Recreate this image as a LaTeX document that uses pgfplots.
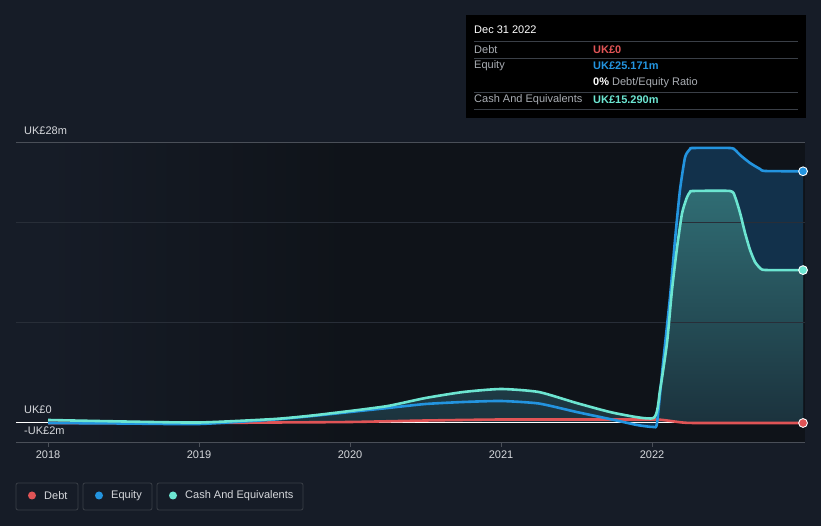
\documentclass[border=0pt]{standalone}
\usepackage{pgfplots}
\pgfplotsset{compat=1.18}
\usepackage{fontspec}
\setmainfont{Liberation Sans}

\definecolor{bg}{HTML}{161C27}
\definecolor{plotbg}{HTML}{0F1319}
\definecolor{debt}{HTML}{E05456}
\definecolor{equity}{HTML}{2394DF}
\definecolor{cash}{HTML}{6CE5D1}
\definecolor{gridc}{HTML}{282E38}
\definecolor{framec}{HTML}{4A4F58}
\definecolor{lbl}{HTML}{D6D8DC}
\definecolor{muted}{HTML}{A9ADB3}
\definecolor{sepc}{HTML}{3A3F47}
\definecolor{eqfill}{HTML}{12314B}
\definecolor{cashtop}{HTML}{306D74}
\definecolor{cashbot}{HTML}{1B323D}

% values in UK£ millions, x in years
\pgfplotstableread{
x y
2018.0 0.3
2018.5 0.15
2019.0 0.05
2019.5 0.4
2019.75 0.75
2020.0 1.2
2020.25 1.7
2020.5 2.5
2020.75 3.1
2021.0 3.4
2021.25 3.1
2021.5 2.0
2021.75 1.0
2022.01 0.5
2022.053 3.3
2022.099 8.0
2022.132 13.3
2022.166 17.6
2022.199 21.0
2022.232 22.6
2022.252 23.1
2022.27 23.2
2022.517 23.2
2022.55 22.6
2022.583 21.0
2022.616 19.0
2022.649 17.3
2022.682 16.1
2022.715 15.5
2022.748 15.3
2023.0 15.29
}\cashdata

\pgfplotstableread{
x y
2018.0 0.0
2018.5 -0.05
2019.0 -0.1
2019.5 0.35
2019.75 0.7
2020.0 1.1
2020.25 1.5
2020.5 1.9
2020.75 2.1
2021.0 2.2
2021.25 1.95
2021.5 1.1
2021.75 0.3
2021.9 -0.2
2022.01 -0.4
2022.033 0.0
2022.073 6.0
2022.119 12.6
2022.152 18.3
2022.185 23.3
2022.219 26.6
2022.252 27.4
2022.27 27.5
2022.517 27.5
2022.55 27.3
2022.583 26.8
2022.649 26.0
2022.715 25.4
2022.748 25.2
2023.0 25.17
}\equitydata

\pgfplotstableread{
x y
2018.0 0
2019.0 0
2019.5 0.05
2020.0 0.1
2020.5 0.25
2021.0 0.35
2021.5 0.35
2022.01 0.35
2022.1 0.25
2022.2 0.05
2022.3 0
2023.0 0
}\debtdata

\begin{document}
\begin{tikzpicture}[x=1pt,y=1pt]
\fill[bg] (0,0) rectangle (821,526);
\fill[left color=bg,right color=plotbg] (48,83) rectangle (350,383);
\fill[plotbg] (350,83) rectangle (805,383);

\begin{axis}[
    at={(16pt,83pt)}, anchor=south west,
    scale only axis, width=789pt, height=300pt,
    xmin=2017.788, xmax=2023.013, ymin=-2, ymax=28,
    axis line style={draw=none},
    xtick={2018,2019,2020,2021,2022},
    xticklabels={2018,2019,2020,2021,2022},
    xtick pos=bottom, tick align=outside,
    major tick length=4pt,
    xtick style={color=framec, line width=0.8pt},
    xticklabel style={font=\fontsize{11}{13}\selectfont, text=lbl},
    ytick=\empty,
    every axis plot/.append style={smooth, tension=0.35},
  ]
  % areas
  \addplot[draw=none, fill=eqfill] table {\equitydata} \closedcycle;
  \addplot[draw=none, top color=cashtop, bottom color=cashbot] table {\cashdata} \closedcycle;
  % grid
  \draw[gridc, line width=1pt] (axis cs:2017.788,10) -- (axis cs:2023.013,10);
  \draw[gridc, line width=1pt] (axis cs:2017.788,20) -- (axis cs:2023.013,20);
  \draw[framec, line width=1pt] (axis cs:2017.788,28) -- (axis cs:2023.013,28);
  \draw[framec, line width=1pt] (axis cs:2017.788,-2) -- (axis cs:2023.013,-2);
  \draw[white, line width=1pt] (axis cs:2017.788,0) -- (axis cs:2023.013,0);
  % lines
  \addplot[debt, line width=2.6pt, line join=round] table {\debtdata};
  \addplot[equity, line width=2.6pt, line join=round] table {\equitydata};
  \addplot[cash, line width=2.6pt, line join=round] table {\cashdata};
  % end markers
  \addplot[only marks, mark=*, mark size=4.4pt, mark options={fill=equity, draw=white, line width=0.9pt}] coordinates {(2023.0,25.171)};
  \addplot[only marks, mark=*, mark size=4.4pt, mark options={fill=cash, draw=white, line width=0.9pt}] coordinates {(2023.0,15.290)};
  \addplot[only marks, mark=*, mark size=4.4pt, mark options={fill=debt, draw=white, line width=0.9pt}] coordinates {(2023.0,0)};
\end{axis}

\begin{scope}[yshift=526pt, yscale=-1, font=\fontsize{11}{13}\selectfont]
  % y labels
  \node[anchor=west, inner sep=0, text=lbl] at (24,131) {UK£28m};
  \node[anchor=west, inner sep=0, text=lbl] at (24,410) {UK£0};
  \node[anchor=west, inner sep=0, text=lbl] at (24,431) {-UK£2m};
  % tooltip
  \fill[black] (466,15) rectangle (806,118);
  \node[anchor=west, inner sep=0, text=white] at (474,30) {Dec 31 2022};
  \foreach \yy in {41.5,58.5,92,109.5} \draw[sepc, line width=0.8pt] (474,\yy) -- (798,\yy);
  \node[anchor=west, inner sep=0, text=muted] at (474,49.5) {Debt};
  \node[anchor=west, inner sep=0, text=muted] at (474,66) {Equity};
  \node[anchor=west, inner sep=0, text=muted] at (474,100) {Cash And Equivalents};
  \node[anchor=west, inner sep=0, text=debt] at (593,49.5) {\bfseries UK£0};
  \node[anchor=west, inner sep=0, text=equity] at (593,66) {\bfseries UK£25.171m};
  \node[anchor=west, inner sep=0, text=muted] at (593,83) {\textcolor{white}{\bfseries 0\%} Debt/Equity Ratio};
  \node[anchor=west, inner sep=0, text=cash] at (593,100) {\bfseries UK£15.290m};
  % legend
  \draw[sepc, line width=0.8pt, rounded corners=2pt] (16,483) rectangle (78,510);
  \draw[sepc, line width=0.8pt, rounded corners=2pt] (83,483) rectangle (152,510);
  \draw[sepc, line width=0.8pt, rounded corners=2pt] (157,483) rectangle (303,510);
  \fill[debt] (32,495.5) circle (4);
  \fill[equity] (99,495.5) circle (4);
  \fill[cash] (173,495.5) circle (4);
  \node[anchor=west, inner sep=0, text=lbl] at (44,495.5) {Debt};
  \node[anchor=west, inner sep=0, text=lbl] at (111,495.5) {Equity};
  \node[anchor=west, inner sep=0, text=lbl] at (185,495.5) {Cash And Equivalents};
\end{scope}
\end{tikzpicture}
\end{document}
